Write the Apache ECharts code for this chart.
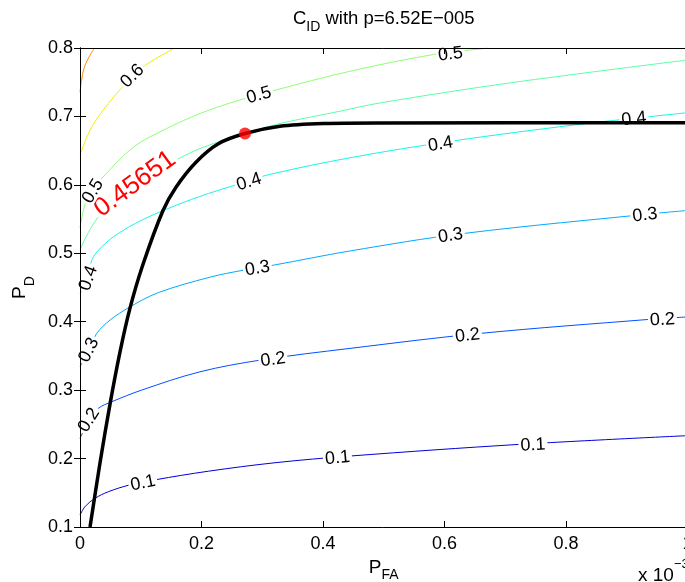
<!DOCTYPE html>
<html><head><meta charset="utf-8">
<script src="https://cdn.jsdelivr.net/npm/echarts@6/dist/echarts.min.js"></script>
<style>html,body{margin:0;padding:0;background:#fff}#c{width:685px;height:582px}</style>
</head><body><div id="c"></div>
<script>
// ---- data ----
const levels = ['0.1', '0.2', '0.3', '0.4', '0.45651', '0.5', '0.6', '0.7'];
const c010 = [[0,0.1175],[0.0082,0.1296],[0.0247,0.1419],[0.0466,0.1515],[0.0795,0.1609],[0.1235,0.1689],[0.2112,0.1815],[0.321,0.1939],[0.4444,0.2037],[0.7243,0.2208],[1.0,0.2335]];
const c020 = [[0,0.2295],[0.0148,0.2562],[0.0301,0.2733],[0.0522,0.283],[0.1016,0.3001],[0.1975,0.3268],[0.2991,0.3442],[0.4444,0.361],[0.6584,0.3829],[0.9383,0.4035],[1.0,0.407]];
const c030 = [[0,0.3341],[0.0148,0.3585],[0.0275,0.3829],[0.0494,0.4023],[0.0823,0.4217],[0.1289,0.4425],[0.214,0.4651],[0.2688,0.4753],[0.3182,0.4826],[0.4444,0.5034],[0.631,0.5289],[0.9547,0.559],[1.0,0.5625]];
const c040 = [[0,0.4413],[0.014,0.4636],[0.0193,0.49],[0.0357,0.5094],[0.063,0.5289],[0.1016,0.5484],[0.1564,0.5695],[0.2112,0.5873],[0.2551,0.5995],[0.3073,0.6141],[0.4444,0.6396],[0.6145,0.6642],[0.8235,0.6886],[0.9328,0.6992],[1.0,0.7055]];
const c045 = [[0,0.5046],[0.0099,0.524],[0.0263,0.5484],[0.0494,0.5732],[0.0823,0.5944],[0.1152,0.6126],[0.158,0.636],[0.1909,0.6506],[0.2359,0.6652],[0.2716,0.675],[0.3292,0.6896],[0.428,0.7076],[0.4938,0.7197],[0.7078,0.749],[1.0,0.7825]];
const c050 = [[0,0.537],[0.0071,0.5678],[0.0198,0.5936],[0.0329,0.6068],[0.0877,0.655],[0.1427,0.6823],[0.1975,0.7042],[0.2523,0.7211],[0.3177,0.7375],[0.4444,0.766],[0.5816,0.7905],[0.6638,0.7991],[0.672,0.8]];
const c060 = [[0,0.6433],[0.0028,0.6506],[0.0193,0.6846],[0.0466,0.7188],[0.0864,0.759],[0.107,0.7747],[0.1536,0.7991],[0.155,0.8]];
const c070 = [[0,0.7353],[0.0025,0.7528],[0.0066,0.7704],[0.0137,0.785],[0.0235,0.7996]];
const roc = [[0.0165,0.1],[0.0329,0.1935],[0.0494,0.2796],[0.0658,0.3556],[0.0823,0.4198],[0.1032,0.4826],[0.1361,0.5615],[0.158,0.5966],[0.1909,0.6331],[0.2277,0.6601],[0.2716,0.675],[0.3292,0.6856],[0.4005,0.6896],[0.4938,0.6905],[1.0,0.6908]];
const optimum = [[0.2716, 0.675]];
// contour label positions [PFA, PD]
const lab010 = [[0.1037,0.1642],[0.4239,0.2007],[0.7457,0.2197]];
const lab020 = [[0.0148,0.2562],[0.3177,0.3446],[0.6379,0.3797],[0.9588,0.4027]];
const lab030 = [[0.0148,0.3585],[0.2922,0.4778],[0.6099,0.5257],[0.93,0.5557]];
const lab040 = [[0.014,0.4636],[0.2782,0.6043],[0.5934,0.6594],[0.9119,0.6962]];
const lab045 = [[0.0905,0.601]];
const lab050 = [[0.0214,0.5907],[0.2947,0.7309],[0.6099,0.7908]];
const lab060 = [[0.0864,0.759]];
const lab070 = [];
const xTicks = [0, 0.2, 0.4, 0.6, 0.8, 1];
const yTicks = [0.1, 0.2, 0.3, 0.4, 0.5, 0.6, 0.7, 0.8];

// ---- styling / assembly ----
const FONT = '"Liberation Sans", Arial, Helvetica, sans-serif';
const contours = [c010, c020, c030, c040, c045, c050, c060, c070];
const labelSets = [lab010, lab020, lab030, lab040, lab045, lab050, lab060, lab070];
const colors = ['#0000d8', '#0050ff', '#00aaff', '#14f5e8', '#5affa5', '#8dff72', '#f0f000', '#ff8c00'];
const labelData = [];
labelSets.forEach((arr, k) => arr.forEach(p => labelData.push([p[0], p[1], k])));

function tangentAngle(p, pts, half) {
  let best = Infinity, bi = 0, bt = 0;
  for (let i = 0; i < pts.length - 1; i++) {
    const a = pts[i], b = pts[i + 1];
    const dx = b[0] - a[0], dy = b[1] - a[1], L2 = dx * dx + dy * dy || 1e-9;
    let t = ((p[0] - a[0]) * dx + (p[1] - a[1]) * dy) / L2;
    t = Math.max(0, Math.min(1, t));
    const ex = a[0] + t * dx - p[0], ey = a[1] + t * dy - p[1], d = ex * ex + ey * ey;
    if (d < best) { best = d; bi = i; bt = t; }
  }
  const cum = [0];
  for (let i = 1; i < pts.length; i++) cum.push(cum[i - 1] + Math.hypot(pts[i][0] - pts[i - 1][0], pts[i][1] - pts[i - 1][1]));
  const s0 = cum[bi] + bt * (cum[bi + 1] - cum[bi]);
  const at = s => {
    s = Math.max(0, Math.min(cum[cum.length - 1], s));
    let i = 0;
    while (i < cum.length - 2 && cum[i + 1] < s) i++;
    const L = (cum[i + 1] - cum[i]) || 1e-9, t = (s - cum[i]) / L;
    return [pts[i][0] + t * (pts[i + 1][0] - pts[i][0]), pts[i][1] + t * (pts[i + 1][1] - pts[i][1])];
  };
  const A = at(s0 - half), B = at(s0 + half);
  return Math.atan2(-(B[1] - A[1]), B[0] - A[0]);
}

const series = contours.map((d, k) => ({
  type: 'line', data: d, symbol: 'none', smooth: 0.35, z: 2, silent: true,
  lineStyle: { color: colors[k], width: 1 }
}));
series.push({
  type: 'custom', z: 3, silent: true, data: labelData,
  encode: { x: 0, y: 1 },
  renderItem: function (params, api) {
    const k = api.value(2);
    const p = api.coord([api.value(0), api.value(1)]);
    const pts = contours[k].map(q => api.coord(q));
    const red = k === 4;
    const ang = tangentAngle(p, pts, red ? 48 : 12);
    return {
      type: 'text', x: p[0], y: p[1], rotation: ang,
      style: {
        text: levels[k], fill: red ? '#ff0000' : '#000',
        fontSize: red ? 26 : 18, fontFamily: FONT,
        align: 'center', verticalAlign: 'middle',
        lineHeight: red ? 21 : 15,
        backgroundColor: '#fff', padding: [0, 2]
      }
    };
  }
});
series.push({
  type: 'line', data: roc, symbol: 'none', smooth: 0.3, z: 4, silent: true,
  lineStyle: { color: '#000', width: 3.5 }
});
series.push({
  type: 'scatter', data: optimum, symbol: 'circle', symbolSize: 12, z: 5, silent: true,
  itemStyle: { color: '#ff0000' }
});

const axisCommon = {
  axisLine: { show: true, lineStyle: { color: '#000', width: 1 } },
  axisTick: { show: true, inside: true, length: 6, lineStyle: { color: '#000' } },
  splitLine: { show: false },
  z: 10
};
const chart = echarts.init(document.getElementById('c'), null, { renderer: 'canvas' });
chart.setOption({
  animation: false,
  backgroundColor: '#fff',
  grid: { left: 80, top: 48, width: 607.5, height: 479, outerBoundsMode: 'none', containLabel: false },
  xAxis: [
    Object.assign({}, axisCommon, {
      type: 'value', min: xTicks[0], max: xTicks[xTicks.length - 1], interval: 0.2, position: 'bottom',
      axisLabel: { color: '#000', fontSize: 18, fontFamily: FONT, margin: 8 },
      name: '{m|P}{s|FA}', nameLocation: 'middle', nameGap: 24,
      nameTextStyle: { rich: {
        m: { fontSize: 19, fontFamily: FONT, color: '#000', lineHeight: 30 },
        s: { fontSize: 14, fontFamily: FONT, color: '#000', lineHeight: 8, verticalAlign: 'bottom' } } }
    }),
    Object.assign({}, axisCommon, {
      type: 'value', min: xTicks[0], max: xTicks[xTicks.length - 1], interval: 0.2, position: 'top',
      axisLabel: { show: false }
    })
  ],
  yAxis: [
    Object.assign({}, axisCommon, {
      type: 'value', min: yTicks[0], max: yTicks[yTicks.length - 1], interval: 0.1, position: 'left',
      axisLabel: { color: '#000', fontSize: 18, fontFamily: FONT, margin: 7 },
      name: '{m|P}{s|D}', nameLocation: 'middle', nameGap: 43, nameRotate: 90,
      nameTextStyle: { rich: {
        m: { fontSize: 19, fontFamily: FONT, color: '#000', lineHeight: 34 },
        s: { fontSize: 14, fontFamily: FONT, color: '#000', lineHeight: 9, verticalAlign: 'bottom' } } }
    }),
    Object.assign({}, axisCommon, {
      type: 'value', min: yTicks[0], max: yTicks[yTicks.length - 1], interval: 0.1, position: 'right',
      axisLabel: { show: false }
    })
  ],
  graphic: [
    { type: 'text', x: 383.75, y: 4, z: 20,
      style: { text: '{m|C}{s|ID}{m| with p=6.52E\u2212005}', align: 'center', verticalAlign: 'top',
        rich: {
          m: { fontSize: 18.5, fontFamily: FONT, fill: '#000', lineHeight: 30 },
          s: { fontSize: 14, fontFamily: FONT, fill: '#000', lineHeight: 12, verticalAlign: 'bottom' } } } },
    { type: 'text', x: 638, y: 558, z: 20,
      style: { text: '{m|x 10}{p|\u22123}', align: 'left', verticalAlign: 'top',
        rich: {
          m: { fontSize: 19, fontFamily: FONT, fill: '#000', lineHeight: 36 },
          p: { fontSize: 13, fontFamily: FONT, fill: '#000', lineHeight: 10, verticalAlign: 'top' } } } }
  ],
  series: series
});
</script></body></html>
